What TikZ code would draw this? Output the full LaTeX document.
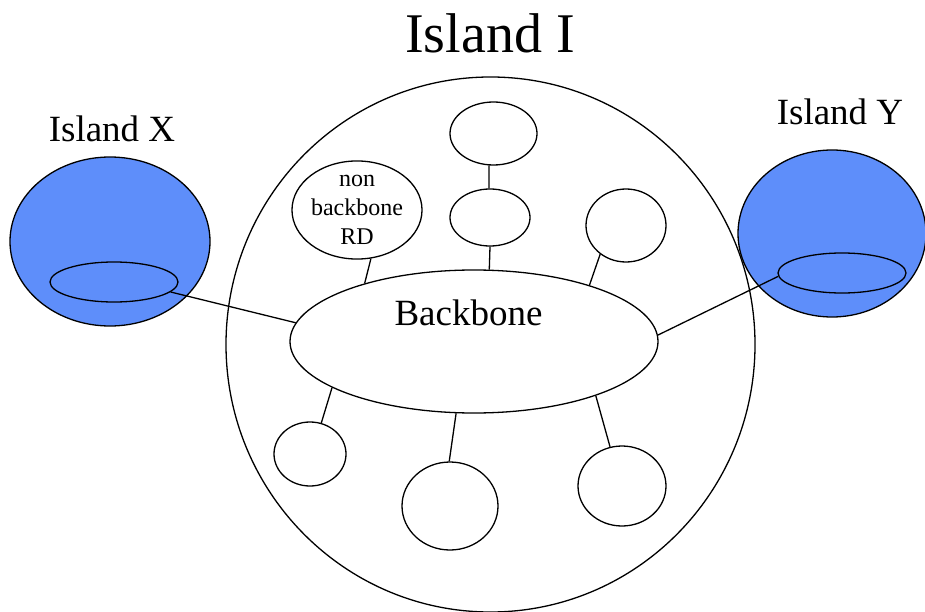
\documentclass[tikz,border=0pt]{standalone}
\usepackage{fontspec}
\setmainfont{Liberation Serif}
\usetikzlibrary{shapes.geometric}
\definecolor{islandblue}{RGB}{94,142,250}
\begin{document}
\begin{tikzpicture}[x=1pt,y=-1pt,line width=1.3pt,
  oval/.style={ellipse,draw=black,inner sep=0pt,fill=white},
  island/.style={ellipse,draw=black,inner sep=0pt,fill=islandblue},
  ring/.style={ellipse,draw=black,inner sep=0pt},
  link/.style={draw=black,line width=1.3pt},
  caption/.style={anchor=base,inner sep=0pt}]
\useasboundingbox (0,0) rectangle (925,612);

% outer domain
\node[ring,minimum width=529pt,minimum height=535pt] (dom) at (490.5,344.5) {};

% neighbouring islands
\node[island,minimum width=200pt,minimum height=169pt] (X) at (110,241.5) {};
\node[ring,minimum width=128pt,minimum height=40pt] (ix) at (114,282) {};
\node[island,minimum width=188pt,minimum height=167pt] (Y) at (832,233.5) {};
\node[ring,minimum width=128pt,minimum height=40pt] (iy) at (842,273) {};

% backbone and attached domains
\node[oval,minimum width=368pt,minimum height=143pt] (bb) at (474,341.5) {};
\node[oval,minimum width=87pt,minimum height=63pt] (top) at (493.5,133.5) {};
\node[oval,minimum width=80pt,minimum height=57pt] (mid) at (490,217.5) {};
\node[oval,minimum width=80pt,minimum height=73pt] (rt) at (626,225.5) {};
\node[oval,minimum width=120pt,minimum height=86pt,align=center,
      font=\fontsize{24pt}{29pt}\selectfont] (nb) at (357,210) {non\\backbone\\RD};
\node[oval,minimum width=72pt,minimum height=64pt] (bl) at (310,454) {};
\node[oval,minimum width=96pt,minimum height=88pt] (bm) at (450,506) {};
\node[oval,minimum width=88pt,minimum height=80pt] (br) at (622,486) {};

% captions
\node[caption,font=\fontsize{56pt}{60pt}\selectfont] (tI) at (490,53) {Island I};
\node[caption,font=\fontsize{37pt}{40pt}\selectfont] (tX) at (112,142) {Island X};
\node[caption,font=\fontsize{37pt}{40pt}\selectfont] (tY) at (840,125) {Island Y};
\node[caption,font=\fontsize{37pt}{40pt}\selectfont] (tB) at (468.5,325) {Backbone};

% connections
\draw[link] (top.-98) -- (mid.92);
\draw[link] (mid.south) -- (bb.78.2);
\draw[link] (nb.-74.4) -- (bb.152.6);
\draw[link] (rt.228.7) -- (bb.26.8);
\draw[link] (bl.70.5) -- (bb.198.1);
\draw[link] (bm.91.3) -- (bb.256.6);
\draw[link] (br.107) -- (bb.-24.6);
\draw[link] (ix.-10.5) -- (bb.174.9);
\draw[link] (iy.183.6) -- (bb.2.6);
\end{tikzpicture}
\end{document}
